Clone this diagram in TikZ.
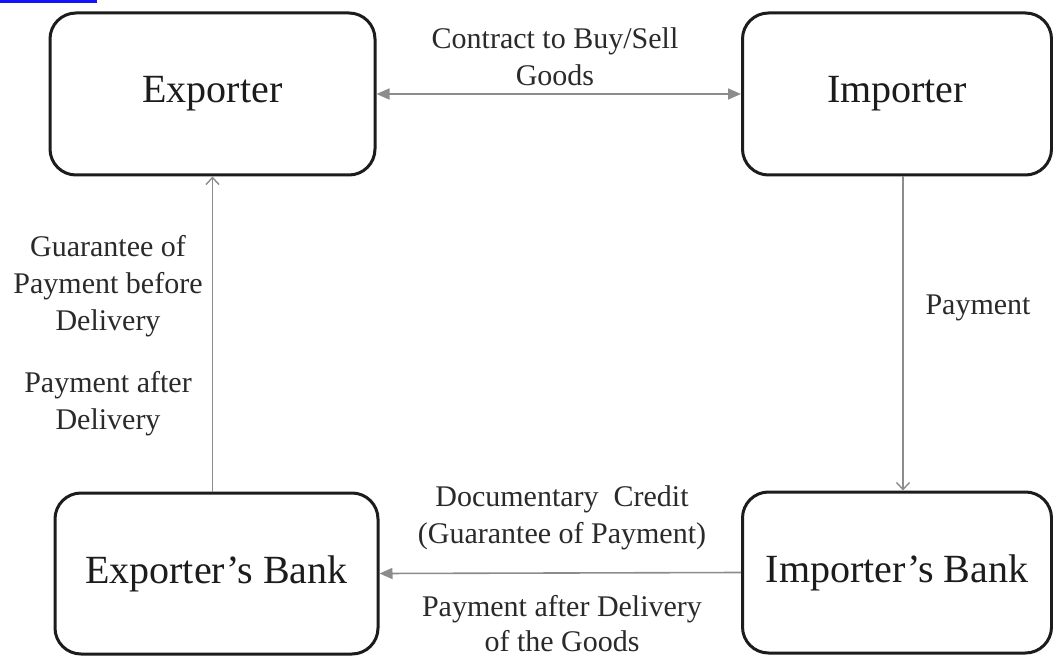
\documentclass[tikz,border=0pt]{standalone}
\usepackage{fontspec}
\setmainfont{Liberation Serif}
\usetikzlibrary{arrows.meta,calc}
\definecolor{linkblue}{RGB}{20,20,250}
\definecolor{flowgray}{RGB}{140,140,140}
\definecolor{inkdark}{RGB}{28,28,28}
\definecolor{labelink}{RGB}{42,42,42}
\tikzset{
  party/.style={draw=inkdark, line width=3pt, rounded corners=26pt,
    text=inkdark, font=\fontsize{40}{46}\selectfont, inner sep=0pt},
  flow/.style={draw=flowgray, line width=1.6pt},
  solidtip/.style={-{Triangle[length=13pt,width=11pt]}},
  bothtips/.style={{Triangle[length=13pt,width=11pt]}-{Triangle[length=13pt,width=11pt]}},
  opentip/.style={-{Straight Barb[length=7pt,width=13pt,line width=1.4pt]}},
  flowlabel/.style={align=center, text=labelink, inner sep=0pt,
    font=\fontsize{30}{37}\selectfont}
}
\begin{document}
\begin{tikzpicture}[x=1pt,y=1pt]
  \useasboundingbox (0,0) rectangle (1053,-658);
  \fill[white] (0,0) rectangle (1053,-658);
  % link underline fragment at the top left
  \fill[linkblue] (0,0) rectangle (97,-3);

  % the four parties
  \node[party, minimum width=325pt, minimum height=162pt] (exporter) at (212.5,-94) {Exporter};
  \node[party, minimum width=309pt, minimum height=162pt] (importer) at (897,-94) {Importer};
  \node[party, minimum width=323pt, minimum height=161pt] (ebank) at (216.5,-573.5) {Exporter’s Bank};
  \node[party, minimum width=309pt, minimum height=161pt] (ibank) at (897,-572.5) {Importer’s Bank};

  % flows between them
  \draw[flow, bothtips] (exporter.east) -- (importer.west);
  \draw[flow, opentip] (exporter.south |- ebank.north) -- (exporter.south);
  \draw[flow, opentip] ($(importer.south)+(6,0)$) -- ($(ibank.north)+(6,0)$);
  \draw[flow, solidtip] (ibank.west) -- (ebank.east);

  % flow labels
  \node[flowlabel] (contract) at (555,-57) {Contract to Buy/Sell\\Goods};
  \node[flowlabel] (guarantee) at (108,-286) {Guarantee of\\Payment before\\Delivery};
  \node[flowlabel] (afterdel) at (108,-404) {Payment after\\Delivery};
  \node[flowlabel] (payment) at (978,-308) {Payment};
  \node[flowlabel] (credit) at (562,-518) {Documentary\ \ Credit\\(Guarantee of Payment)};
  \node[flowlabel, font=\fontsize{30}{35}\selectfont] (aftergoods) at (562,-624) {Payment after Delivery\\of the Goods};
\end{tikzpicture}
\end{document}
